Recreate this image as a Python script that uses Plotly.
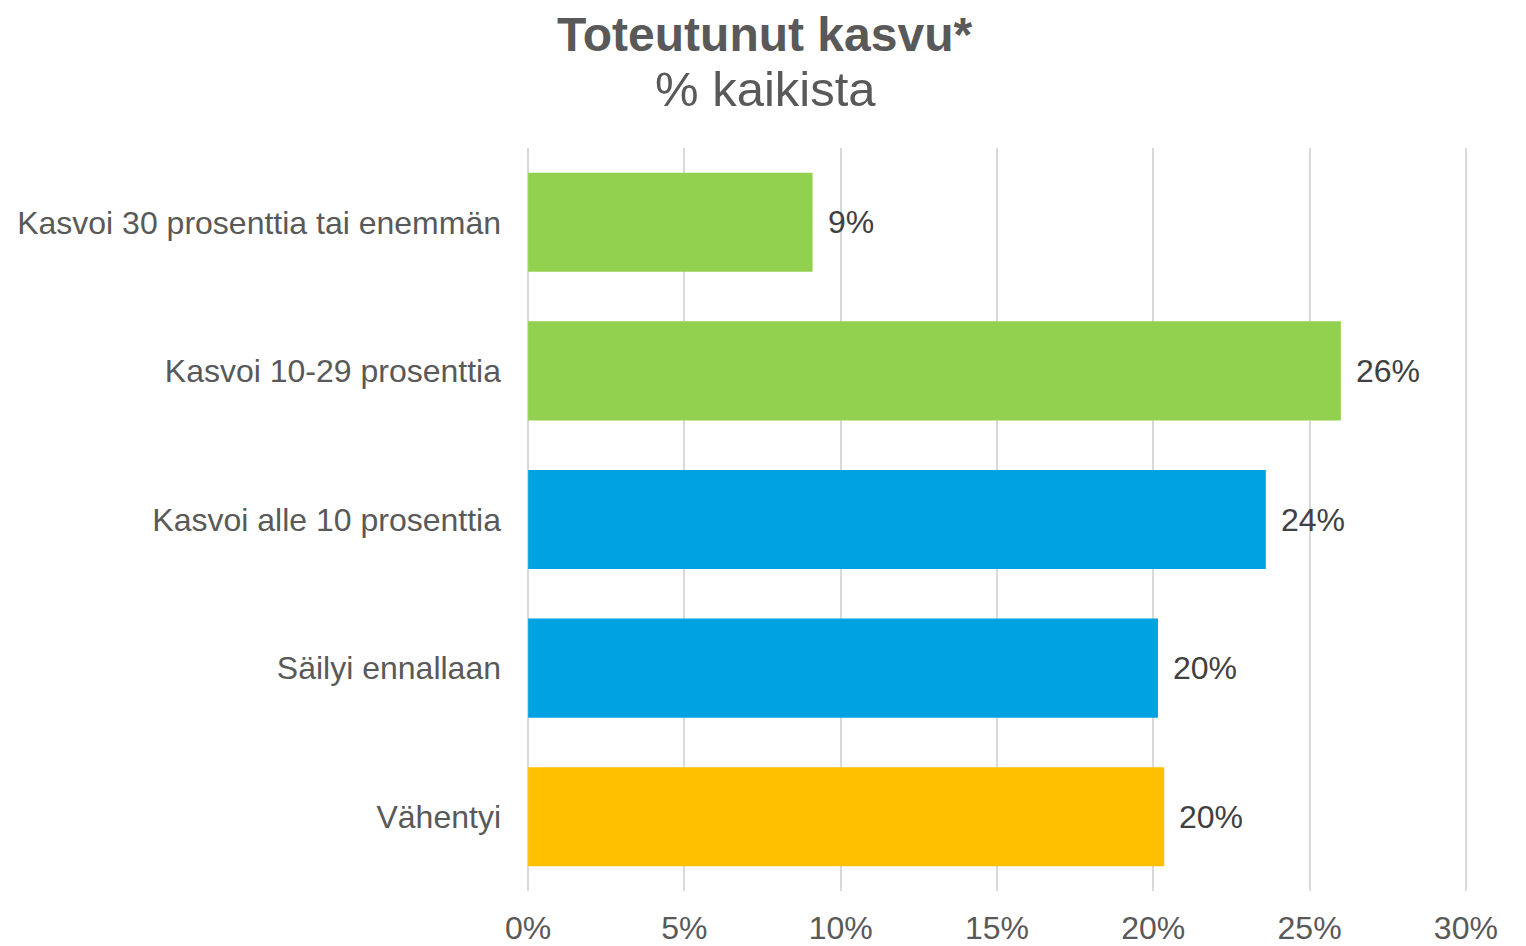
import plotly.graph_objects as go

categories = ["Kasvoi 30 prosenttia tai enemmän", "Kasvoi 10-29 prosenttia",
              "Kasvoi alle 10 prosenttia", "Säilyi ennallaan", "Vähentyi"]
values = [9.1, 26.0, 23.6, 20.15, 20.35]
labels = ["9%", "26%", "24%", "20%", "20%"]
colors = ["#92D050", "#92D050", "#00A2E1", "#00A2E1", "#FFC000"]
tick_vals = [0, 5, 10, 15, 20, 25, 30]
tick_text = ["0%", "5%", "10%", "15%", "20%", "25%", "30%"]

FONT = "Liberation Sans, Arial, sans-serif"

# page body has an 8px margin; figure is sized/offset to compensate
W, H = 1518, 938
L, R, T, B = 517, 57, 140, 55
plot_w = W - L - R
plot_h = H - T - B
x_lo, x_hi = -0.1, 30.1

fig = go.Figure(go.Bar(
    x=values, y=categories, orientation="h",
    marker=dict(color=colors, line=dict(width=0)),
    hoverinfo="skip",
))

for c, v, t in zip(categories, values, labels):
    fig.add_annotation(x=v, y=c, text=t, showarrow=False, xanchor="left",
                       xshift=13, font=dict(family=FONT, size=32, color="#404040"))

def px_x(page_x):
    return (page_x - 8 - L) / plot_w

def px_y(page_y):
    return 1 + (T - (page_y - 8)) / plot_h

fig.add_annotation(text="<b>Toteutunut kasvu*</b>", xref="paper", yref="paper",
                   x=px_x(764), y=px_y(34), xanchor="center", yanchor="middle",
                   showarrow=False, borderpad=0,
                   font=dict(family=FONT, size=48, color="#595959"))
fig.add_annotation(text="% kaikista", xref="paper", yref="paper",
                   x=px_x(765), y=px_y(89), xanchor="center", yanchor="middle",
                   showarrow=False, borderpad=0,
                   font=dict(family=FONT, size=49, color="#595959"))

fig.update_layout(
    width=W, height=H,
    paper_bgcolor="white", plot_bgcolor="white",
    margin=dict(l=L, r=R, t=T, b=B),
    bargap=0.333,
    showlegend=False,
    font=dict(family=FONT, color="#595959"),
)
fig.update_xaxes(
    range=[x_lo, x_hi], tickvals=tick_vals, ticktext=tick_text,
    showgrid=True, gridcolor="#D9D9D9", gridwidth=2, zeroline=False,
    showline=False, ticks="", ticklabelstandoff=15, automargin=False,
    tickfont=dict(family=FONT, size=32, color="#595959"),
)
fig.update_yaxes(
    autorange="reversed", showgrid=False, zeroline=False, showline=False,
    ticks="", ticklabelstandoff=23, automargin=False,
    tickfont=dict(family=FONT, size=32, color="#595959"),
)

fig.write_html("out.html")
